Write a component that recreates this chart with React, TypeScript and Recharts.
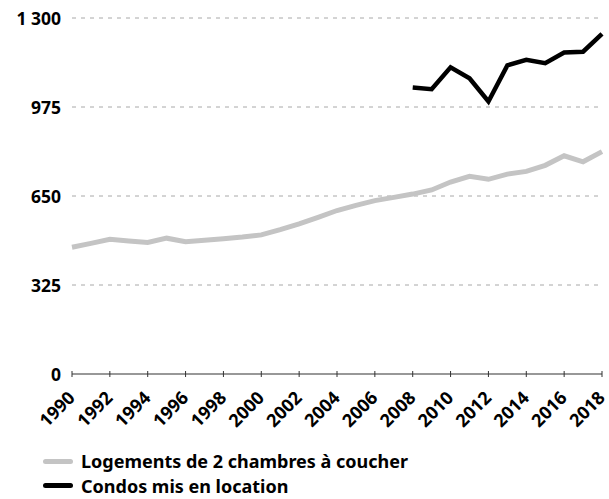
import React from "react";
import { LineChart, Line, XAxis, YAxis, CartesianGrid, Legend } from "recharts";

const years = [1990,1991,1992,1993,1994,1995,1996,1997,1998,1999,2000,2001,2002,2003,2004,2005,2006,2007,2008,2009,2010,2011,2012,2013,2014,2015,2016,2017,2018];
const logements = [463,477,492,486,480,496,483,488,494,500,508,527,548,572,597,616,633,645,657,672,701,722,711,730,740,762,797,775,812];
const condos: (number | null)[] = [null,null,null,null,null,null,null,null,null,null,null,null,null,null,null,null,null,null,1046,1040,1120,1080,995,1127,1147,1135,1174,1177,1242];
const yTicks = [0,325,650,975,1300];
const xTicks = [1990,1992,1994,1996,1998,2000,2002,2004,2006,2008,2010,2012,2014,2016,2018];
const seriesNames = ["Logements de 2 chambres à coucher", "Condos mis en location"];
const seriesColors = ["#c4c4c4", "#000000"];

const data = years.map((y, i) => ({ year: y, logements: logements[i], condos: condos[i] }));

const FONT = "'Noto Sans', sans-serif";

const fmt = (v: number) => (v >= 1000 ? `${Math.floor(v / 1000)} ${String(v % 1000).padStart(3, "0")}` : String(v));

const YTick = (props: any) => {
  const { x, y, payload } = props;
  return (
    <text x={x} y={y} dy={6.5} textAnchor="end" fontFamily={FONT} fontWeight={700} fontSize={17.5} fill="#000">
      {fmt(payload.value)}
    </text>
  );
};

const XTick = (props: any) => {
  const { x, y, payload } = props;
  const ax = x + 4;
  const ay = y + 25;
  return (
    <g>
      <line x1={x} x2={x} y1={y - 3} y2={y + 3} stroke="#333" strokeWidth={1} />
      <text
        x={ax}
        y={ay}
        textAnchor="end"
        transform={`rotate(-45 ${ax} ${ay})`}
        style={{ fontFamily: FONT, fontWeight: 700, fontSize: 18 }}
        fill="#000"
      >
        {payload.value}
      </text>
    </g>
  );
};

const LegendContent = () => (
  <div style={{ paddingLeft: 43, paddingTop: 0, fontFamily: FONT, fontWeight: 700, fontSize: 18, lineHeight: 1, color: "#000" }}>
    {seriesNames.map((n, i) => (
      <div key={n} style={{ display: "flex", alignItems: "center", height: 24.5, whiteSpace: "nowrap" }}>
        <span style={{ display: "inline-block", width: 30, height: 5, borderRadius: 3, background: seriesColors[i], marginRight: 8 }} />
        <span>{n}</span>
      </div>
    ))}
  </div>
);

export default function App() {
  return (
    <div style={{ position: "absolute", left: 0, top: 0, width: 609, height: 499, background: "#fff" }}>
      <LineChart width={609} height={499} data={data} margin={{ top: 18, right: 7, left: 0, bottom: 0 }}>
        <CartesianGrid vertical={false} stroke="#a8a8a8" strokeDasharray="4 5" horizontalValues={[325, 650, 975, 1300]} />
        <XAxis
          dataKey="year"
          type="number"
          domain={[1990, 2018]}
          ticks={xTicks}
          interval={0}
          height={75}
          axisLine={{ stroke: "#333", strokeWidth: 1.2 }}
          tickLine={false}
          tickSize={0}
          tickMargin={0}
          tick={<XTick />}
        />
        <YAxis
          type="number"
          domain={[0, 1300]}
          ticks={yTicks}
          width={72}
          axisLine={false}
          tickLine={false}
          tickSize={0}
          tickMargin={11}
          tick={<YTick />}
        />
        <Legend verticalAlign="bottom" align="left" height={50} content={<LegendContent />} />
        <Line dataKey="logements" stroke={seriesColors[0]} strokeWidth={5} dot={false} isAnimationActive={false} />
        <Line dataKey="condos" stroke={seriesColors[1]} strokeWidth={4.5} dot={false} isAnimationActive={false} connectNulls={false} />
      </LineChart>
    </div>
  );
}
